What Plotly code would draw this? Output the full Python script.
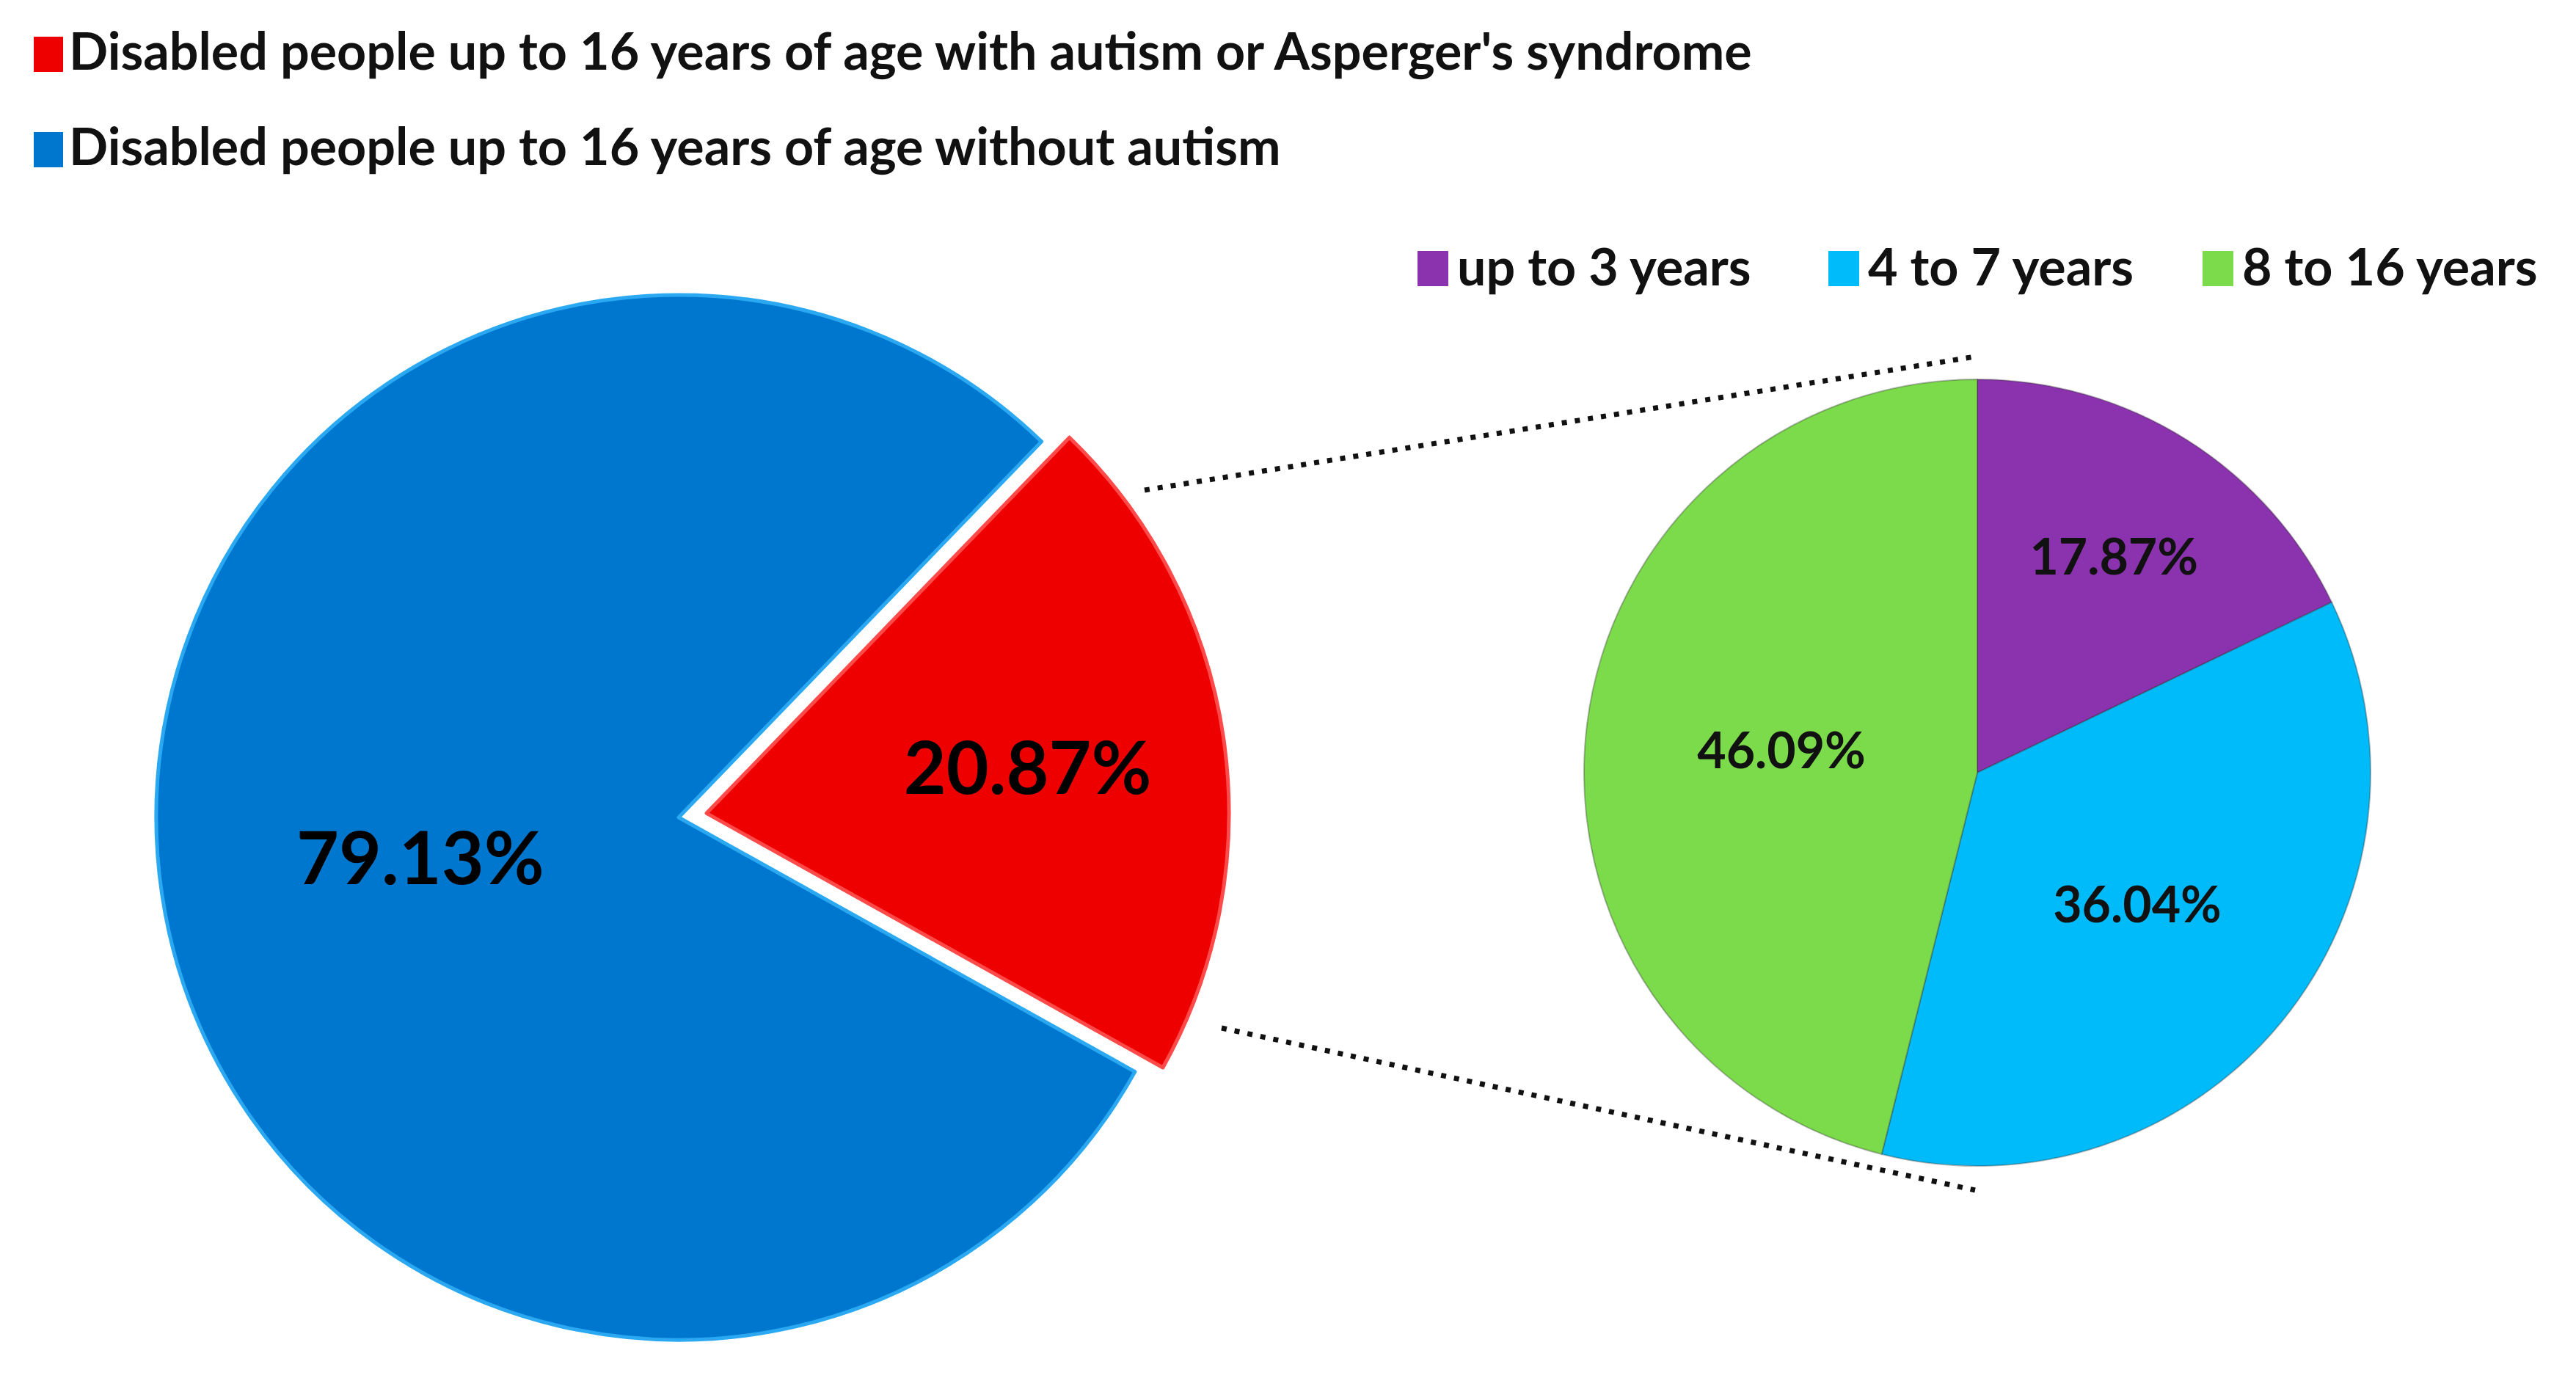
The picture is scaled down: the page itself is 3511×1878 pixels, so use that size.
import plotly.graph_objects as go

W, H = 3511, 1878

# ---------------- data ----------------
main_labels = ["Disabled people up to 16 years of age with autism or Asperger's syndrome",
               "Disabled people up to 16 years of age without autism"]
main_values = [20.87, 79.13]
main_colors = ["#EE0000", "#0077CF"]
main_line_colors = ["#FF4A4A", "#2AA9F2"]
main_pull = [0.054, 0.0]

age_labels = ["up to 3 years", "4 to 7 years", "8 to 16 years"]
age_values = [17.87, 36.04, 46.09]
age_colors = ["#8B32AE", "#00BBF9", "#7BDB4B"]

FONT = "Lato, 'Open Sans', 'DejaVu Sans', sans-serif"


def domain_px(cx, cy, r, pull):
    half = r * (1 + pull)
    return dict(x=[(cx - half) / W, (cx + half) / W],
                y=[1 - (cy + half) / H, 1 - (cy - half) / H])


fig = go.Figure()

fig.add_trace(go.Pie(
    labels=main_labels, values=main_values, sort=False,
    direction="clockwise", rotation=44, pull=main_pull,
    marker=dict(colors=main_colors, line=dict(color=main_line_colors, width=5)),
    texttemplate="%{percent:.2%}", textposition="inside",
    insidetextorientation="horizontal",
    textfont=dict(family=FONT, size=100, color="#000000", weight="bold"),
    domain=domain_px(917, 1106, 712, max(main_pull)),
    showlegend=False, hoverinfo="label+percent",
))

fig.add_trace(go.Pie(
    labels=age_labels, values=age_values, sort=False,
    direction="clockwise", rotation=0,
    marker=dict(colors=age_colors, line=dict(color="rgba(50,50,50,0.35)", width=2)),
    texttemplate="%{percent:.2%}", textposition="inside",
    insidetextorientation="horizontal",
    textfont=dict(family=FONT, size=68, color="#111111", weight="bold"),
    domain=domain_px(2687, 1045, 536, 0),
    showlegend=False, hoverinfo="label+percent",
))

shapes = []
annotations = []

LEG_FONT = dict(family=FONT, size=70, color="#111111", weight="bold")

# legend for the main pie (vertical, top-left)
leg1_rows = [66, 196]
for lab, col, yc in zip(main_labels, main_colors, leg1_rows):
    shapes.append(dict(type="rect", xref="paper", yref="paper",
                       x0=38 / W, x1=78 / W, y0=1 - (yc + 24) / H, y1=1 - (yc - 24) / H,
                       fillcolor=col, line=dict(width=0)))
    annotations.append(dict(text=lab, xref="paper", yref="paper", x=84 / W, y=1 - (yc - 6) / H,
                            xanchor="left", yanchor="middle", showarrow=False, font=LEG_FONT))

# legend for the age breakdown (horizontal, top-right)
leg2_x = [1924, 2484, 2994]
leg2_y = 358
for lab, col, x0 in zip(age_labels, age_colors, leg2_x):
    shapes.append(dict(type="rect", xref="paper", yref="paper",
                       x0=x0 / W, x1=(x0 + 42) / W, y0=1 - (leg2_y + 24) / H, y1=1 - (leg2_y - 24) / H,
                       fillcolor=col, line=dict(width=0)))
    annotations.append(dict(text=lab, xref="paper", yref="paper", x=(x0 + 52) / W, y=1 - (leg2_y - 4) / H,
                            xanchor="left", yanchor="middle", showarrow=False, font=LEG_FONT))

# dotted connector lines
connectors = [((1552, 660), (2684, 478)), ((1657, 1393), (2684, 1614))]
for (xa, ya), (xb, yb) in connectors:
    shapes.append(dict(type="line", xref="paper", yref="paper",
                       x0=xa / W, y0=1 - ya / H, x1=xb / W, y1=1 - yb / H,
                       line=dict(color="#111111", width=7, dash="7px,11px")))

fig.update_layout(
    width=W, height=H, margin=dict(l=0, r=0, t=0, b=0),
    paper_bgcolor="white", plot_bgcolor="white",
    showlegend=False, shapes=shapes, annotations=annotations,
    font=dict(family=FONT),
)

fig.write_html("out.html")
